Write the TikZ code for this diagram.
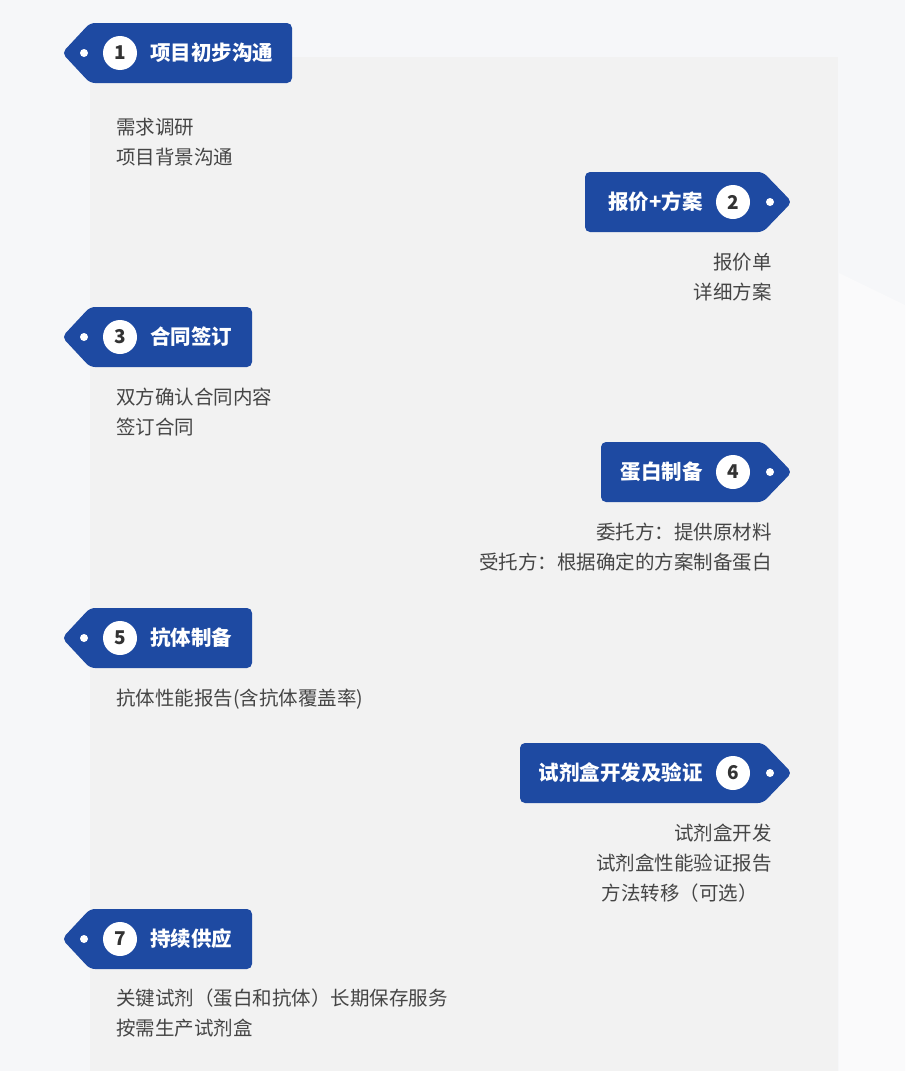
\documentclass[tikz,border=0pt]{standalone}
\usepackage{fontspec}
\setmainfont{Noto Sans CJK SC}
\usepackage{tikz}
\usetikzlibrary{positioning,calc}
\usepackage{xcolor}

\definecolor{tagblue}{HTML}{1E4AA2}
\definecolor{bodygray}{HTML}{454545}
\definecolor{numgray}{HTML}{333333}
\definecolor{pagebg}{HTML}{F6F7F9}
\definecolor{panelbg}{HTML}{F2F2F2}

\tikzset{
  tagbody/.style={fill=tagblue, rounded corners=5pt},
  taghole/.style={fill=white},
  numdot/.style={circle, fill=white, minimum size=34pt, inner sep=0pt, text=numgray, font=\fontsize{19pt}{19pt}\selectfont\bfseries},
  tagtitle/.style={text=white, inner sep=0pt, text height=17.6pt, text depth=2.9pt, font=\fontsize{20.5pt}{21pt}\selectfont\bfseries},
  bodyline/.style={text=bodygray, inner sep=0pt, text height=17.2pt, text depth=2.3pt, font=\fontsize{19.5pt}{30pt}\selectfont}
}

\begin{document}
\begin{tikzpicture}[x=1pt, y=-1pt]
            % Background
            \fill[pagebg] (0,0) rectangle (905,1071);
            \fill[white!40!pagebg] (839,273) -- (905,305) -- (905,1071) -- (839,1071) -- cycle;
            \fill[panelbg] (90,57) rectangle (838,1071);
            \useasboundingbox (0,0) rectangle (905,1071);

            % Step tags (left)
            \fill[tagbody] (90,23) -- (292,23) -- (292,83) -- (90,83) -- (62,53) -- cycle;
            \fill[tagbody] (90,307) -- (252,307) -- (252,367) -- (90,367) -- (62,337) -- cycle;
            \fill[tagbody] (90,608) -- (252,608) -- (252,668) -- (90,668) -- (62,638) -- cycle;
            \fill[tagbody] (90,909) -- (252,909) -- (252,969) -- (90,969) -- (62,939) -- cycle;

            % Step tags (right)
            \fill[tagbody] (585,172) -- (763,172) -- (792,202) -- (763,232) -- (585,232) -- cycle;
            \fill[tagbody] (601,442) -- (763,442) -- (792,472) -- (763,502) -- (601,502) -- cycle;
            \fill[tagbody] (520,743) -- (763,743) -- (792,773) -- (763,803) -- (520,803) -- cycle;

            % Holes
            \fill[taghole] (84,53) circle (4);
            \fill[taghole] (84,337) circle (4);
            \fill[taghole] (84,638) circle (4);
            \fill[taghole] (84,939) circle (4);
            \fill[taghole] (770,202) circle (4);
            \fill[taghole] (770,472) circle (4);
            \fill[taghole] (770,773) circle (4);

            % Numbers
            \node[numdot] (n1) at (120,53) {1};
            \node[numdot] (n2) at (733,202) {2};
            \node[numdot] (n3) at (120,337) {3};
            \node[numdot] (n4) at (733,472) {4};
            \node[numdot] (n5) at (120,638) {5};
            \node[numdot] (n6) at (733,773) {6};
            \node[numdot] (n7) at (120,939) {7};

            % Titles
            \node[tagtitle, anchor=west] (t1) at (150,53) {项目初步沟通};
            \node[tagtitle, anchor=east] (t2) at (703,202) {报价+方案};
            \node[tagtitle, anchor=west] (t3) at (150,337) {合同签订};
            \node[tagtitle, anchor=east] (t4) at (703,472) {蛋白制备};
            \node[tagtitle, anchor=west] (t5) at (150,638) {抗体制备};
            \node[tagtitle, anchor=east] (t6) at (703,773) {试剂盒开发及验证};
            \node[tagtitle, anchor=west] (t7) at (150,939) {持续供应};

            % Details
            \node[bodyline, anchor=west] (d1a) at (116,127) {需求调研};
            \node[bodyline, anchor=west] (d1b) at (116,157) {项目背景沟通};
            \node[bodyline, anchor=east] (d2a) at (772,262) {报价单};
            \node[bodyline, anchor=east] (d2b) at (772,292) {详细方案};
            \node[bodyline, anchor=west] (d3a) at (116,397) {双方确认合同内容};
            \node[bodyline, anchor=west] (d3b) at (116,427) {签订合同};
            \node[bodyline, anchor=east] (d4a) at (772,532) {委托方：提供原材料};
            \node[bodyline, anchor=east] (d4b) at (772,562) {受托方：根据确定的方案制备蛋白};
            \node[bodyline, anchor=west] (d5a) at (116,698) {抗体性能报告(含抗体覆盖率)};
            \node[bodyline, anchor=east] (d6a) at (772,833) {试剂盒开发};
            \node[bodyline, anchor=east] (d6b) at (772,863) {试剂盒性能验证报告};
            \node[bodyline, anchor=east] (d6c) at (758,893) {方法转移（可选）};
            \node[bodyline, anchor=west] (d7a) at (116,998) {关键试剂（蛋白和抗体）长期保存服务};
            \node[bodyline, anchor=west] (d7b) at (116,1028) {按需生产试剂盒};
\end{tikzpicture}
\end{document}
